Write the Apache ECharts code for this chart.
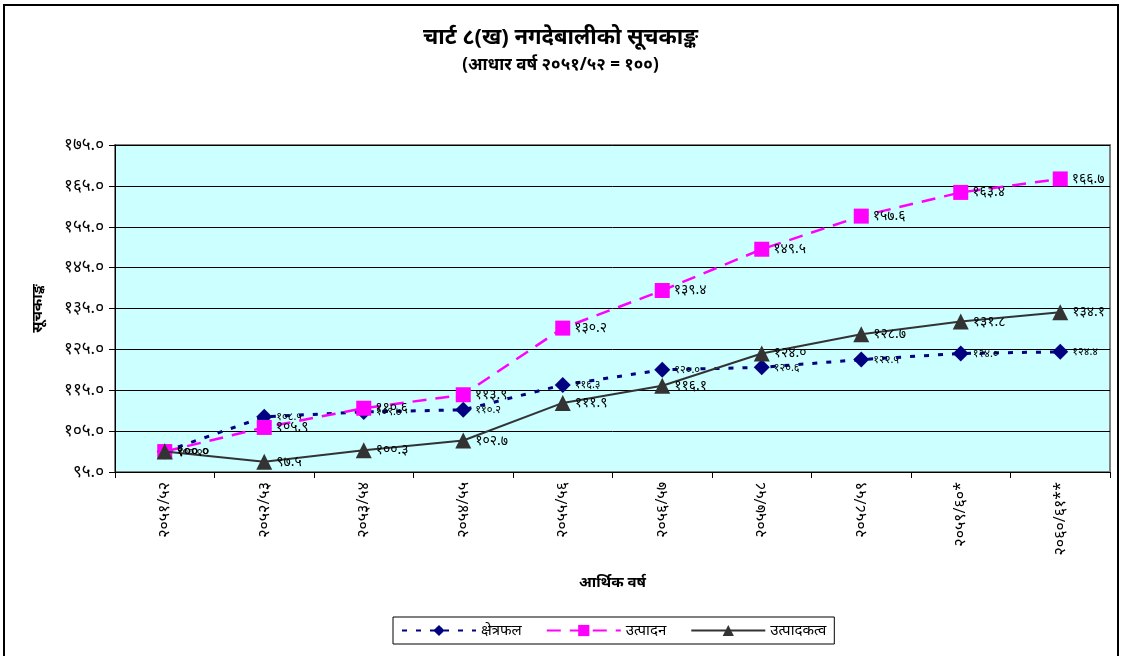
<!DOCTYPE html>
<html>
<head>
<meta charset="utf-8">
<script src="https://cdn.jsdelivr.net/npm/echarts@6/dist/echarts.min.js"></script>
<style>
  html, body { margin: 0; padding: 0; background: #fff; }
  #chart { width: 1121px; height: 656px; }
</style>
</head>
<body>
<div id="chart"></div>
<script>
// वर्ष (x axis)
var years = ["२०५१/५२", "२०५२/५३", "२०५३/५४", "२०५४/५५", "२०५५/५६",
  "२०५६/५७", "२०५७/५८", "२०५८/५९", "२०५९/६०*", "२०६०/६१**"];
// क्षेत्रफल
var area = [100.0, 108.5, 109.7, 110.2, 116.3, 120.0, 120.6, 122.5, 124.0, 124.4];
// उत्पादन
var production = [100.0, 105.9, 110.6, 113.9, 130.2, 139.4, 149.5, 157.6, 163.4, 166.7];
// उत्पादकत्व
var productivity = [100.0, 97.5, 100.3, 102.7, 111.9, 116.1, 124.0, 128.7, 131.8, 134.1];

var seriesNames = ["क्षेत्रफल", "उत्पादन", "उत्पादकत्व"];

var font = "'Noto Sans', 'DejaVu Sans', sans-serif";
var digits = "०१२३४५६७८९";
function toNep(s) {
  return String(s).replace(/[0-9]/g, function (d) { return digits[+d]; });
}

var chart = echarts.init(document.getElementById("chart"));

function lbl(size) {
  return {
    show: true,
    position: "right",
    distance: 4,
    color: "#000",
    fontSize: size,
    fontFamily: font,
    formatter: function (p) { return toNep(p.value.toFixed(1)); }
  };
}

var option = {
  backgroundColor: "#fff",
  animation: false,
  title: {
    text: "चार्ट ८(ख) नगदेबालीको सूचकाङ्क",
    subtext: "(आधार वर्ष २०५१/५२ = १००)",
    left: "center",
    top: 22,
    itemGap: 8,
    textStyle: { fontSize: 22, fontWeight: "bold", color: "#000", fontFamily: font },
    subtextStyle: { fontSize: 17, fontWeight: "bold", color: "#000", fontFamily: font }
  },
  graphic: [
    {
      type: "polyline",
      shape: { points: [[4, 700], [4, 5], [1118, 5], [1118, 700]] },
      style: { stroke: "#000", lineWidth: 2, fill: null },
      silent: true
    }
  ],
  legend: {
    top: 617,
    left: 393,
    itemWidth: 74,
    itemHeight: 14,
    itemGap: 24,
    padding: [6, 8],
    borderColor: "#000",
    borderWidth: 1,
    textStyle: { fontSize: 15, color: "#000", fontFamily: font },
    data: seriesNames
  },
  grid: {
    left: 115,
    right: 11,
    top: 145,
    bottom: 184,
    show: true,
    backgroundColor: "#CCFFFF",
    borderColor: "#808080",
    borderWidth: 2
  },
  xAxis: {
    type: "category",
    data: years,
    boundaryGap: true,
    name: "आर्थिक वर्ष",
    nameLocation: "middle",
    nameGap: 103,
    nameTextStyle: { fontSize: 15, fontWeight: "bold", color: "#000", fontFamily: font },
    axisLine: { lineStyle: { color: "#000", width: 1 } },
    axisTick: { show: true, length: 6, lineStyle: { color: "#000" } },
    axisLabel: { rotate: 90, fontSize: 16, color: "#000", margin: 10, fontFamily: font }
  },
  yAxis: {
    type: "value",
    min: 95,
    max: 175,
    interval: 10,
    name: "सूचकाङ्क",
    nameLocation: "middle",
    nameGap: 70,
    nameTextStyle: { fontSize: 15, fontWeight: "bold", color: "#000", fontFamily: font },
    axisLine: { show: true, lineStyle: { color: "#000" } },
    axisTick: { show: true, length: 6, lineStyle: { color: "#000" } },
    axisLabel: {
      fontSize: 17, color: "#000", margin: 11, fontFamily: font,
      formatter: function (v) { return toNep(v.toFixed(1)); }
    },
    splitLine: { show: true, lineStyle: { color: "#000", width: 1 } }
  },
  series: [
    {
      name: seriesNames[0],
      type: "line",
      data: area,
      symbol: "diamond",
      symbolSize: 16,
      itemStyle: { color: "#000080" },
      lineStyle: { color: "#000080", width: 3, type: [5, 9] },
      label: lbl(11),
      z: 3
    },
    {
      name: seriesNames[1],
      type: "line",
      data: production,
      symbol: "rect",
      symbolSize: 15,
      itemStyle: { color: "#FF00FF" },
      lineStyle: { color: "#FF00FF", width: 2.5, type: [14, 9] },
      label: lbl(14),
      z: 4
    },
    {
      name: seriesNames[2],
      type: "line",
      data: productivity,
      symbol: "triangle",
      symbolSize: 16,
      itemStyle: { color: "#333333" },
      lineStyle: { color: "#333333", width: 2 },
      label: lbl(14),
      z: 5
    }
  ]
};
chart.setOption(option);
</script>
</body>
</html>
